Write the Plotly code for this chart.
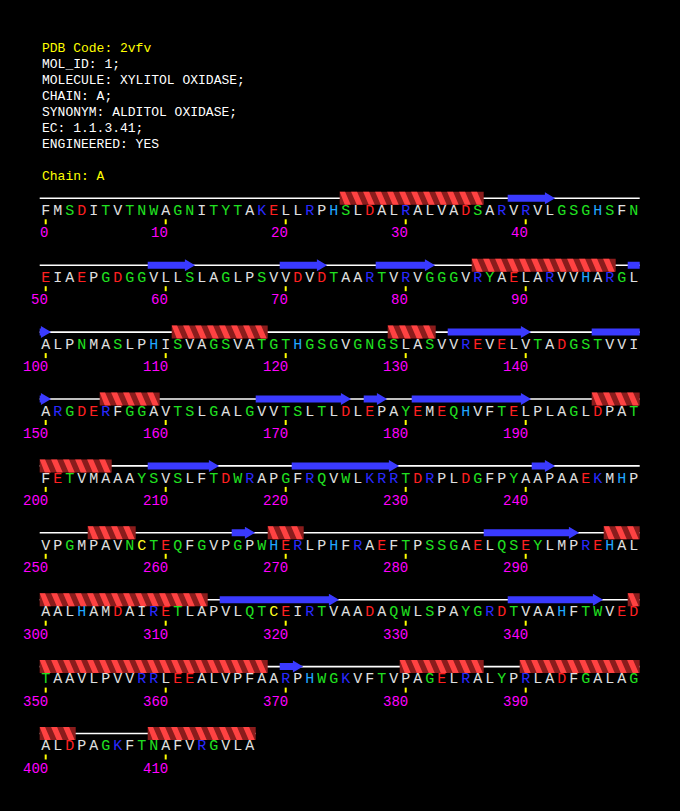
import plotly.graph_objects as go

# header lines (text, colour)
header_lines = [
    ("PDB Code: 2vfv", "#ffff00"),
    ("MOL_ID: 1;", "#ffffff"),
    ("MOLECULE: XYLITOL OXIDASE;", "#ffffff"),
    ("CHAIN: A;", "#ffffff"),
    ("SYNONYM: ALDITOL OXIDASE;", "#ffffff"),
    ("EC: 1.1.3.41;", "#ffffff"),
    ("ENGINEERED: YES", "#ffffff"),
    ("", "#ffffff"),
    ("Chain: A", "#ffff00"),
]

sequence = (
    "FMSDITVTNWAGNITYTAKELLRPHSLDALRALVADSARVRVLGSGHSFN"
    "EIAEPGDGGVLLSLAGLPSVVDVDTAARTVRVGGGVRYAELARVVHARGL"
    "ALPNMASLPHISVAGSVATGTHGSGVGNGSLASVVREVELVTADGSTVVI"
    "ARGDERFGGAVTSLGALGVVTSLTLDLEPAYEMEQHVFTELPLAGLDPAT"
    "FETVMAAAYSVSLFTDWRAPGFRQVWLKRRTDRPLDGFPYAAPAAEKMHP"
    "VPGMPAVNCTEQFGVPGPWHERLPHFRAEFTPSSGAELQSEYLMPREHAL"
    "AALHAMDAIRETLAPVLQTCEIRTVAADAQWLSPAYGRDTVAAHFTWVED"
    "TAAVLPVVRRLEEALVPFAARPHWGKVFTVPAGELRALYPRLADFGALAG"
    "ALDPAGKFTNAFVRGVLA"
)

# secondary structure (first residue, last residue)
helices = [(25, 36), (86, 97), (111, 118), (129, 132), (155, 159), (196, 205),
           (254, 257), (269, 271), (297, 313), (349, 368), (380, 386),
           (390, 402), (409, 417)]
strands = [(39, 42), (59, 62), (70, 73), (78, 82), (99, 100), (134, 140),
           (146, 150), (168, 175), (177, 178), (181, 190), (209, 214),
           (221, 229), (241, 242), (266, 267), (287, 294), (315, 324),
           (339, 346), (370, 371)]

# residue colour classes
residue_colors = {
    "#ff2020": "DE",
    "#2a2aff": "KR",
    "#20a8ff": "H",
    "#ffff20": "C",
    "#20e020": "STNQGYW",
    "#e0e0e0": "AVLIMFP",
}

per_row = 50
W, H = 680, 811
x0_px, dx_px = 45.7, 12.0       # column 0 centre, column width
y0_px, dy_px = 198.3, 66.9      # first backbone line, row pitch
mono = "Liberation Mono"


def row_y(r):
    return y0_px + dy_px * r


def split_rows(a, b):
    # split an absolute residue-coordinate interval into (row, local a, local b)
    out = []
    r = int((a + 0.5) // per_row)
    while True:
        lo = r * per_row - 0.5
        hi = r * per_row + per_row - 0.5
        sa, sb = max(a, lo), min(b, hi)
        if sa < sb:
            out.append((r, sa - r * per_row, sb - r * per_row))
        if b <= hi:
            break
        r += 1
    return out


fig = go.Figure()

n = len(sequence)
n_rows = (n + per_row - 1) // per_row

# backbone lines
lx, ly = [], []
for r in range(n_rows):
    cnt = min(per_row, n - r * per_row)
    lx += [-0.5, cnt - 0.5, None]
    ly += [row_y(r), row_y(r), None]
fig.add_trace(go.Scatter(x=lx, y=ly, mode="lines", line=dict(color="white", width=1.6),
                         hoverinfo="skip", showlegend=False))

# helices: dark band + light slanted stripes
hh = 6.5
dkx, dky, ltx, lty = [], [], [], []
for s, e in helices:
    for r, a, b in split_rows(s - 0.5, e + 0.5):
        y = row_y(r)
        dkx += [a, b, b, a, a, None]
        dky += [y - hh, y - hh, y + hh, y + hh, y - hh, None]
        c = a + 0.5
        while c < b:
            pts = [(c - 0.55, y - hh), (c - 0.05, y - hh), (c + 0.42, y + hh), (c - 0.08, y + hh)]
            for px, py in pts + [pts[0]]:
                ltx.append(min(max(px, a), b))
                lty.append(py)
            ltx.append(None)
            lty.append(None)
            c += 1
fig.add_trace(go.Scatter(x=dkx, y=dky, mode="lines", fill="toself", fillcolor="#8a1c1c",
                         line=dict(width=0), hoverinfo="skip", showlegend=False))
fig.add_trace(go.Scatter(x=ltx, y=lty, mode="lines", fill="toself", fillcolor="#ff4242",
                         line=dict(width=0), hoverinfo="skip", showlegend=False))

# strands: arrows
bh, ah, head = 3.5, 6.0, 0.85
sx, sy = [], []
for s, e in strands:
    tip = e + 0.45
    base = tip - head
    for r, a, b in split_rows(s - 0.5, tip):
        y = row_y(r)
        off = r * per_row
        if abs(b - (tip - off)) < 1e-9:
            hb = max(base - off, a)
            if hb > a:
                sx += [a, hb, hb, a, a, None]
                sy += [y - bh, y - bh, y + bh, y + bh, y - bh, None]
            sx += [hb, b, hb, hb, None]
            sy += [y - ah, y, y + ah, y - ah, None]
        else:
            sx += [a, b, b, a, a, None]
            sy += [y - bh, y - bh, y + bh, y + bh, y - bh, None]
fig.add_trace(go.Scatter(x=sx, y=sy, mode="lines", fill="toself", fillcolor="#3a3aff",
                         line=dict(width=0), hoverinfo="skip", showlegend=False))

# residue letters
for color, aas in residue_colors.items():
    xs, ys, ts = [], [], []
    for i, aa in enumerate(sequence):
        if aa in aas:
            xs.append(i % per_row)
            ys.append(row_y(i // per_row) + 13)
            ts.append(aa)
    fig.add_trace(go.Scatter(x=xs, y=ys, text=ts, mode="text", textposition="middle center",
                             textfont=dict(family=mono, size=15, color=color),
                             hoverinfo="skip", showlegend=False))

# ticks and numbers every 10 residues
tx, ty = [], []
for i in range(0, n, 10):
    c, y = i % per_row, row_y(i // per_row)
    tx += [c, c, None]
    ty += [y + 21, y + 26, None]
    fig.add_annotation(x=c + 0.36, y=y + 35, text=str(i), showarrow=False, xanchor="right",
                       yanchor="middle", font=dict(family=mono, size=14, color="#ff00ff"))
fig.add_trace(go.Scatter(x=tx, y=ty, mode="lines", line=dict(color="#ffff00", width=2),
                         hoverinfo="skip", showlegend=False))

# header text
for k, (txt, col) in enumerate(header_lines):
    if txt:
        fig.add_annotation(x=40 / W, xref="paper", y=48 + 16 * k, yref="y", text=txt,
                           showarrow=False, xanchor="left", yanchor="middle",
                           font=dict(family=mono, size=13, color=col))

fig.update_layout(
    width=W, height=H,
    margin=dict(l=0, r=0, t=0, b=0),
    paper_bgcolor="black", plot_bgcolor="black",
    xaxis=dict(range=[-x0_px / dx_px, (W - x0_px) / dx_px], visible=False, fixedrange=True),
    yaxis=dict(range=[H, 0], visible=False, fixedrange=True),
)

fig.write_html("out.html", config={"displayModeBar": False},
               post_script="document.body.style.margin='0';"
                           "document.body.style.background='black';"
                           "document.body.style.overflow='hidden';")
